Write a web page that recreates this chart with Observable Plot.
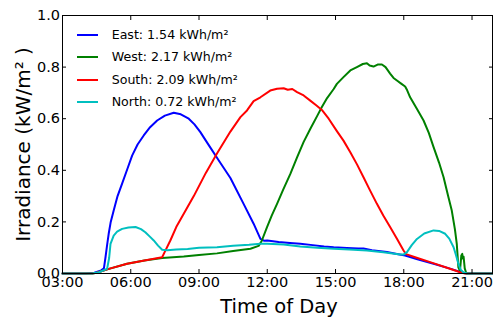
<!DOCTYPE html>
<html><head><meta charset="utf-8">
<script src="https://cdn.jsdelivr.net/npm/d3@7"></script>
<script src="https://cdn.jsdelivr.net/npm/@observablehq/plot@0.6"></script>
<style>
body{margin:0;background:#fff;font-family:"DejaVu Sans",sans-serif;}
#wrap{position:relative;width:493px;height:320px;overflow:hidden;}
.lg-line{position:absolute;height:2px;}
.lg-text{position:absolute;font-size:12.6px;line-height:14px;color:#000;white-space:nowrap;}
</style></head><body><div id="wrap"></div>
<script>
// hours of day, irradiance kW/m^2
const east = [[3,0],[4.0,0],[4.4,0.003],[4.7,0.012],[4.82,0.02],[4.89,0.063],[4.96,0.11],[5.03,0.154],[5.12,0.2],[5.25,0.244],[5.42,0.3],[5.62,0.348],[5.85,0.405],[6.06,0.457],[6.3,0.5],[6.57,0.535],[6.85,0.567],[7.16,0.593],[7.5,0.612],[7.89,0.623],[8.2,0.617],[8.55,0.6],[8.8,0.578],[9.06,0.548],[9.3,0.515],[9.5,0.488],[9.87,0.438],[10.38,0.37],[10.96,0.27],[11.4,0.193],[11.7,0.134],[11.85,0.127],[12.0,0.128],[12.5,0.122],[13.0,0.118],[13.45,0.115],[14.0,0.11],[14.5,0.105],[14.92,0.102],[15.5,0.099],[16.0,0.097],[16.23,0.097],[16.6,0.09],[17.26,0.083],[17.7,0.076],[18.06,0.07],[18.6,0.055],[19.31,0.038],[20.0,0.02],[20.63,0.002],[20.8,0],[21.9,0]];
const west = [[3,0],[4.3,0],[4.5,0.003],[5.0,0.017],[5.84,0.038],[6.6,0.05],[7.38,0.06],[8.33,0.066],[9.0,0.072],[9.79,0.078],[10.5,0.087],[11.26,0.096],[11.62,0.107],[11.75,0.125],[11.99,0.18],[12.2,0.225],[12.43,0.27],[12.7,0.325],[13.01,0.385],[13.31,0.45],[13.6,0.51],[13.9,0.562],[14.19,0.61],[14.4,0.645],[14.63,0.68],[14.92,0.715],[15.06,0.735],[15.35,0.761],[15.65,0.787],[15.94,0.8],[16.2,0.812],[16.38,0.815],[16.5,0.806],[16.67,0.802],[16.85,0.81],[17.04,0.81],[17.2,0.8],[17.4,0.775],[17.55,0.758],[17.7,0.748],[17.9,0.735],[18.06,0.725],[18.15,0.71],[18.28,0.683],[18.6,0.635],[18.87,0.593],[19.1,0.545],[19.31,0.49],[19.55,0.43],[19.75,0.373],[19.95,0.3],[20.11,0.244],[20.25,0.17],[20.33,0.115],[20.4,0.024],[20.47,0.01],[20.53,0.07],[20.57,0.076],[20.6,0.058],[20.63,0.065],[20.68,0.02],[20.75,0],[21.9,0]];
const south = [[3,0],[4.3,0],[4.5,0.003],[5.0,0.017],[5.84,0.038],[6.6,0.05],[7.38,0.063],[7.5,0.085],[7.74,0.128],[8.0,0.18],[8.77,0.3],[9.3,0.39],[9.79,0.465],[10.38,0.55],[10.82,0.606],[11.11,0.632],[11.4,0.668],[11.7,0.683],[12.13,0.709],[12.43,0.716],[12.72,0.718],[12.9,0.712],[13.1,0.715],[13.31,0.703],[13.6,0.69],[13.89,0.67],[14.15,0.652],[14.4,0.634],[14.7,0.6],[15.06,0.552],[15.35,0.515],[15.65,0.47],[15.95,0.422],[16.23,0.373],[16.5,0.325],[16.82,0.27],[17.1,0.225],[17.4,0.18],[17.7,0.135],[17.99,0.089],[18.1,0.075],[18.6,0.06],[19.16,0.044],[19.8,0.025],[20.48,0.005],[20.7,0],[21.9,0]];
const north = [[3,0],[4.3,0],[4.6,0.005],[4.96,0.018],[5.05,0.06],[5.11,0.115],[5.25,0.147],[5.4,0.162],[5.62,0.173],[5.9,0.178],[6.21,0.18],[6.45,0.172],[6.64,0.16],[6.85,0.142],[7.01,0.128],[7.2,0.108],[7.38,0.092],[7.6,0.09],[8.0,0.093],[8.5,0.095],[9.0,0.1],[9.79,0.102],[10.5,0.108],[11.2,0.111],[11.7,0.115],[12.0,0.115],[12.72,0.112],[13.45,0.105],[14.2,0.1],[14.92,0.096],[15.6,0.093],[16.38,0.089],[17.1,0.082],[17.84,0.074],[18.0,0.074],[18.14,0.083],[18.35,0.11],[18.58,0.134],[18.9,0.155],[19.31,0.167],[19.55,0.165],[19.82,0.154],[20.0,0.135],[20.19,0.102],[20.3,0.07],[20.4,0.038],[20.5,0.015],[20.63,0.004],[20.8,0],[21.9,0]];

const seriesNames = ["East", "West", "South", "North"];
const seriesData = [east, west, south, north];
const seriesColors = ["#0000ff", "#008000", "#ff0000", "#00bfbf"];
const legendLabels = ["East: 1.54 kWh/m²", "West: 2.17 kWh/m²", "South: 2.09 kWh/m²", "North: 0.72 kWh/m²"];
const xTicks = [3, 6, 9, 12, 15, 18, 21];
const yTicks = [0, 0.2, 0.4, 0.6, 0.8, 1.0];
const xDomain = [3, 21.9];
const yDomain = [0, 1];
const xLabel = "Time of Day";
const yLabel = "Irradiance (kW/m² )";

const fmtHour = h => String(h).padStart(2, "0") + ":00";
const fmtY = d3.format(".1f");
const blank = () => "";

const lines = seriesData.map((s, i) =>
  Plot.line(s, {x: d => d[0], y: d => d[1], stroke: seriesColors[i], strokeWidth: 2})
);

const chart = Plot.plot({
  width: 493, height: 320,
  marginLeft: 62, marginRight: 1, marginTop: 15, marginBottom: 47,
  style: {fontFamily: "DejaVu Sans", fontSize: "14.5px", color: "#000", background: "#fff"},
  x: {domain: xDomain},
  y: {domain: yDomain},
  marks: [
    ...lines,
    Plot.frame({stroke: "#000", strokeWidth: 1}),
    Plot.axisX({ticks: xTicks, anchor: "bottom", tickSize: -4, tickFormat: blank, label: null}),
    Plot.axisX({ticks: xTicks, anchor: "top", tickSize: -4, tickFormat: blank, label: null}),
    Plot.axisY({ticks: yTicks, anchor: "left", tickSize: -4, tickFormat: blank, label: null}),
    Plot.axisY({ticks: yTicks, anchor: "right", tickSize: -4, tickFormat: blank, label: null}),
    Plot.axisX({ticks: xTicks, anchor: "bottom", tickSize: 0, tickPadding: 3, tickFormat: fmtHour, fontSize: 14.5, label: null}),
    Plot.axisY({ticks: yTicks, anchor: "left", tickSize: 0, tickPadding: 2.5, tickFormat: fmtY, fontSize: 14.5, label: null}),
    Plot.text([yLabel], {text: d => d, frameAnchor: "left", rotate: -90, dx: -33, lineAnchor: "bottom", textAnchor: "middle", fontSize: 20, fill: "#000"}),
    Plot.text([xLabel], {text: d => d, frameAnchor: "bottom", dx: 1.5, dy: 39, lineAnchor: "bottom", textAnchor: "middle", fontSize: 19.5, fill: "#000"})
  ]
});

const wrap = document.getElementById("wrap");
wrap.appendChild(chart);

const rowY = [35, 57.3, 79.6, 101.9];
legendLabels.forEach((lab, i) => {
  const ln = document.createElement("div");
  ln.className = "lg-line";
  ln.style.left = "77px"; ln.style.width = "20.5px";
  ln.style.top = (rowY[i] - 1) + "px";
  ln.style.background = seriesColors[i];
  wrap.appendChild(ln);
  const tx = document.createElement("div");
  tx.className = "lg-text";
  tx.style.left = "111.7px";
  tx.style.top = (rowY[i] - 7) + "px";
  tx.textContent = lab;
  wrap.appendChild(tx);
});
</script>
</body></html>
